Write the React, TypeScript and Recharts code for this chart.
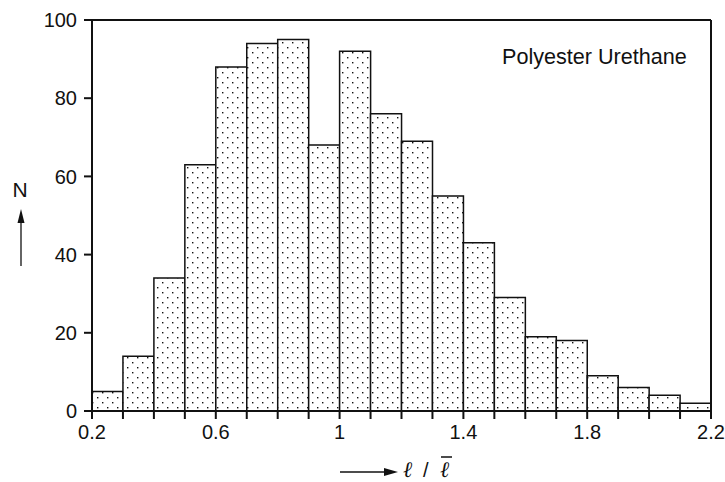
import React from 'react';
import { ComposedChart, Bar, XAxis, YAxis, ReferenceLine } from 'recharts';

// bin centres of the l / l-bar histogram (bin width 0.1)
const binCenters = [
  0.25, 0.35, 0.45, 0.55, 0.65, 0.75, 0.85, 0.95, 1.05, 1.15,
  1.25, 1.35, 1.45, 1.55, 1.65, 1.75, 1.85, 1.95, 2.05, 2.15,
];
const counts = [5, 14, 34, 63, 88, 94, 95, 68, 92, 76, 69, 55, 43, 29, 19, 18, 9, 6, 4, 2];

const xTicks = [0.2, 0.3, 0.4, 0.5, 0.6, 0.7, 0.8, 0.9, 1.0, 1.1, 1.2, 1.3, 1.4, 1.5, 1.6, 1.7, 1.8, 1.9, 2.0, 2.1, 2.2];
const xLabelled = ['0.2', '0.6', '1', '1.4', '1.8', '2.2'];
const yTicks = [0, 20, 40, 60, 80, 100];

const title = 'Polyester Urethane';

const data = binCenters.map((x, i) => ({ x, n: counts[i] }));

const FONT = '"Liberation Sans", Arial, sans-serif';

const fmtX = (v: number) => {
  const s = String(Math.round(v * 10) / 10);
  return xLabelled.includes(s) ? s : '';
};

export default function App() {
  return (
    <div style={{ position: 'absolute', left: 0, top: 0, width: 725, height: 482, background: '#fff' }}>
      <ComposedChart
        width={725}
        height={482}
        data={data}
        margin={{ top: 20, right: 14, bottom: 0, left: 0 }}
        barCategoryGap={0}
        barGap={0}
      >
        <defs>
          <pattern id="dots" width="10" height="10" patternUnits="userSpaceOnUse">
            <rect width="10" height="10" fill="#fff" />
            <rect x="2" y="2" width="1.4" height="1.4" fill="#111" />
            <rect x="7" y="7" width="1.4" height="1.4" fill="#111" />
          </pattern>
        </defs>
        <XAxis
          dataKey="x"
          type="number"
          domain={[0.2, 2.2]}
          ticks={xTicks}
          interval={0}
          tickFormatter={fmtX}
          height={71}
          tickSize={8}
          tickMargin={6}
          axisLine={{ stroke: '#111', strokeWidth: 2 }}
          tickLine={{ stroke: '#111', strokeWidth: 2 }}
          tick={{ fill: '#111', fontSize: 20, fontFamily: FONT }}
          allowDataOverflow
        />
        <YAxis
          type="number"
          domain={[0, 100]}
          ticks={yTicks}
          interval={0}
          width={92}
          tickSize={8}
          tickMargin={7}
          axisLine={{ stroke: '#111', strokeWidth: 2 }}
          tickLine={{ stroke: '#111', strokeWidth: 2 }}
          tick={{ fill: '#111', fontSize: 20, fontFamily: FONT }}
        />
        <Bar dataKey="n" fill="url(#dots)" stroke="#111" strokeWidth={1.5} isAnimationActive={false} />
        <ReferenceLine y={100} stroke="#111" strokeWidth={2} />
        <ReferenceLine x={2.2} stroke="#111" strokeWidth={2} />
      </ComposedChart>
      <svg
        width={725}
        height={482}
        style={{ position: 'absolute', left: 0, top: 0, pointerEvents: 'none' }}
      >
        <text x={502} y={64} fontSize={21.6} fontFamily={FONT} fill="#111">{title}</text>
        {/* y axis name with upward arrow */}
        <text x={20} y={197} fontSize={21} fontFamily={FONT} fill="#111" textAnchor="middle">N</text>
        <line x1={21} y1={266} x2={21} y2={218} stroke="#111" strokeWidth={1.3} />
        <polygon points="21,209 17.5,223 24.5,223" fill="#111" />
        {/* x axis name with arrow */}
        <line x1={340} y1={472} x2={388} y2={472} stroke="#111" strokeWidth={1.3} />
        <polygon points="398,472 384,468 384,476" fill="#111" />
        <text x={403} y={477} fontSize={22} fontFamily='"Liberation Serif", serif' fontStyle="italic" fill="#111">ℓ</text>
        <text x={423} y={477} fontSize={20} fontFamily={FONT} fill="#111">/</text>
        <text x={440} y={477} fontSize={22} fontFamily='"Liberation Serif", serif' fontStyle="italic" fill="#111">ℓ</text>
        <line x1={441} y1={457} x2={452} y2={457} stroke="#111" strokeWidth={1.5} />
      </svg>
    </div>
  );
}
